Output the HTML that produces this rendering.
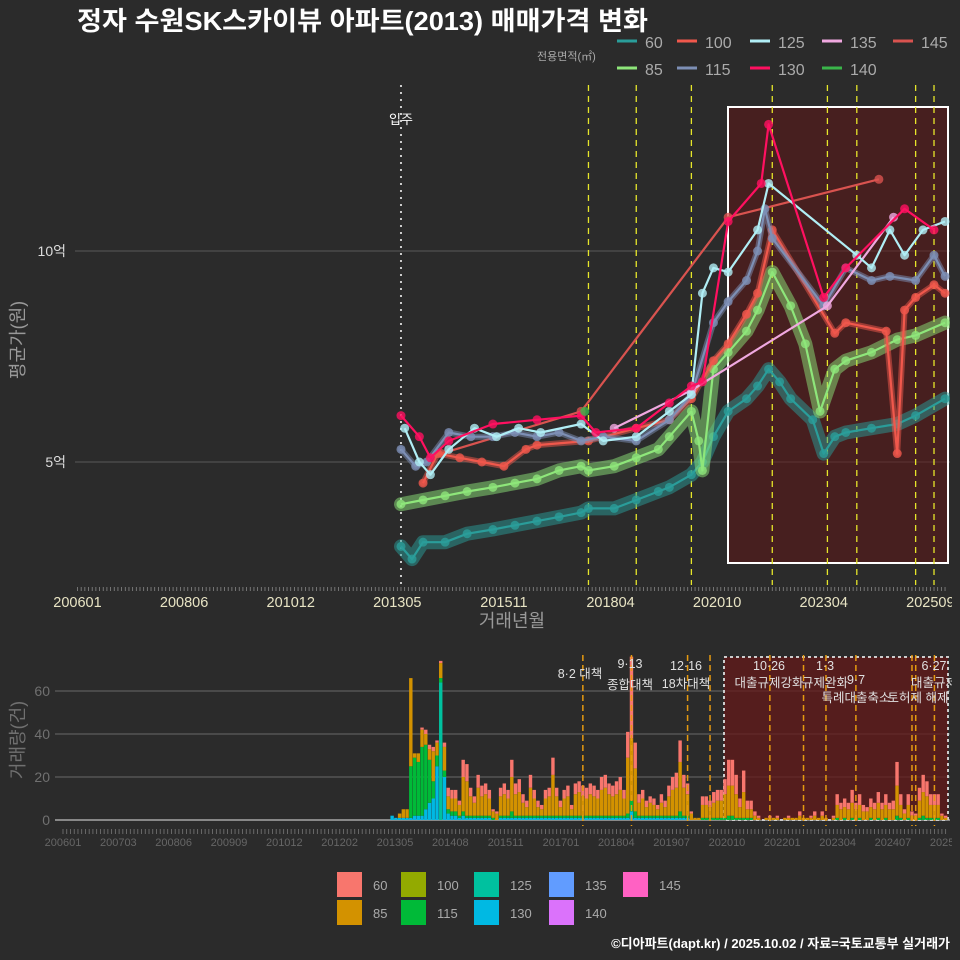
<!DOCTYPE html>
<html><head><meta charset="utf-8">
<style>
html,body{margin:0;padding:0;background:#2b2b2b;}
svg{display:block;font-family:"Liberation Sans","Noto Sans CJK KR",sans-serif;}
</style></head>
<body>
<svg id="c" width="960" height="960" viewBox="0 0 960 960" xmlns="http://www.w3.org/2000/svg">
<rect x="0" y="0" width="960" height="960" fill="#2b2b2b"/>
<text x="77" y="30" fill="#ffffff" font-size="26" font-weight="bold" textLength="571" lengthAdjust="spacingAndGlyphs">정자 수원SK스카이뷰 아파트(2013) 매매가격 변화</text>
<text x="537" y="60" fill="#aaaaaa" font-size="11">전용면적(㎡)</text>
<g id="topLegend"></g>
<g id="main"></g>
<g id="vol"></g>
<g id="botLegend"></g>
<text x="950" y="948" fill="#ffffff" font-size="13" font-weight="bold" text-anchor="end">©디아파트(dapt.kr) / 2025.10.02 / 자료=국토교통부 실거래가</text>
</svg>
<script>
// ---------- price series data (억) ----------
const s60_m = ["201305","201308","201311","201405","201411","201506","201512","201606","201612","201706","201708","201803","201809","201903","201906","201912","202003","202006","202010","202103","202106","202109","202112","202203","202209","202212","202303","202306","202401","202408","202501","202509"];
const s60_v = [3.0,2.7,3.1,3.1,3.3,3.4,3.5,3.6,3.7,3.8,3.9,3.9,4.1,4.3,4.4,4.7,5.0,5.6,6.2,6.5,6.8,7.2,6.9,6.5,6.0,5.2,5.6,5.7,5.8,5.9,6.1,6.5];
const s85_m = ["201305","201311","201405","201411","201506","201512","201606","201612","201706","201708","201803","201809","201903","201906","201912","202002","202003","202006","202010","202103","202106","202110","202203","202207","202211","202303","202306","202401","202408","202501","202509"];
const s85_v = [4.0,4.1,4.2,4.3,4.4,4.5,4.6,4.8,4.9,4.8,4.9,5.1,5.3,5.6,6.2,5.5,4.8,7.2,7.6,8.1,8.6,9.5,8.7,7.8,6.2,7.2,7.4,7.6,7.9,8.0,8.3];
const s100_m = ["201311","201403","201409","201503","201509","201603","201606","201708","201809","201906","201912","202006","202010","202103","202106","202110","202303","202306","202405","202408","202410","202501","202506","202509"];
const s100_v = [4.5,5.2,5.1,5.0,4.9,5.3,5.4,5.5,5.8,6.0,6.5,7.4,7.8,8.5,9.0,10.5,8.05,8.3,8.1,5.2,8.6,8.9,9.2,9.0];
const s115_m = ["201305","201309","201312","201406","201412","201506","201512","201606","201612","201706","201712","201809","201906","201912","202006","202010","202103","202106","202108","202110","202212","202306","202401","202406","202501","202506","202509"];
const s115_v = [5.3,4.9,5.0,5.7,5.6,5.6,5.7,5.6,5.7,5.5,5.6,5.5,6.0,6.6,8.3,8.8,9.3,10.0,11.0,10.3,8.7,9.6,9.3,9.4,9.3,9.9,9.4];
const s125_m = ["201306","201310","201401","201406","201501","201507","201601","201607","201706","201712","201809","201906","201912","202003","202006","202010","202106","202109","202309","202401","202406","202410","202503","202509"];
const s125_v = [5.8,5.0,4.7,5.3,5.8,5.6,5.8,5.7,5.9,5.5,5.6,6.2,6.6,9.0,9.6,9.5,10.5,11.6,9.9,9.6,10.5,9.9,10.5,10.7];
const s130_m = ["201305","201310","201401","201406","201506","201606","201706","201710","201809","201906","201912","202003","202010","202107","202109","202212","202306","202410","202506"];
const s130_v = [6.1,5.6,5.1,5.5,5.9,6.0,6.1,5.7,5.8,6.4,6.8,6.9,10.7,11.6,13.0,8.9,9.6,11.0,10.5];
const s135_m = ["201803","201912","202301","202407"];
const s135_v = [5.8,6.7,8.7,10.8];
const s145_m = ["201404","201706","202010","202403"];
const s145_v = [5.2,6.2,10.8,11.7];
const s140_m = ["201707"];
const s140_v = [6.2];

// ---------- volume data (건), monthly from 201305 ----------
const volStart = "201305";
const volTotal = [2,1,3,5,5,66,31,31,
43,42,35,34,37,74,36,15,14,14,9,28,
26,15,11,21,16,17,14,5,4,15,17,14,
28,17,19,12,9,21,14,9,7,14,15,29,
15,9,14,16,7,17,18,16,15,17,16,14,
20,21,17,16,18,20,14,41,76,36,12,14,
9,11,10,7,12,9,16,20,22,37,21,17,
4,1,1,11,11,9,13,14,14,19,28,28,
21,10,23,9,9,4,2,0,1,2,1,2,
0,1,2,1,1,4,1,1,2,4,1,4,
1,0,2,12,8,10,8,14,8,12,7,6,
10,8,13,8,12,8,9,27,12,5,12,4,
3,15,21,18,12,12,12,3,2];
const vol60 = [0,0,0,0,0,0,0,0,
1,2,2,2,1,1,2,4,4,4,2,8,
8,4,3,6,5,5,4,1,1,4,5,4,
8,5,6,4,3,6,4,3,2,4,4,8,
4,3,4,5,2,5,5,5,5,5,5,4,
6,6,5,5,6,6,4,12,38,12,4,4,
3,3,3,2,4,3,5,6,7,10,6,5,
1,0,0,4,4,3,5,5,5,7,12,12,
9,4,10,4,4,2,1,0,0,1,0,1,
0,0,1,0,0,2,0,0,1,2,0,2,
0,0,1,5,3,4,3,6,3,5,3,2,
4,3,5,3,5,3,4,11,5,2,5,2,
1,6,8,7,5,5,5,1,1];
const vol115 = [0,0,0,0,0,24,27,25,
32,30,20,8,5,2,3,2,2,2,1,2,
1,1,1,1,1,1,1,1,0,1,1,1,
3,1,1,1,1,1,1,1,1,1,1,1,
1,1,1,1,1,1,1,1,1,1,1,1,
1,1,1,1,1,1,1,2,5,3,1,1,
1,1,1,1,1,1,1,1,1,3,1,1,
0,0,0,1,1,1,1,1,1,1,2,2,
1,1,1,1,1,0,0,0,0,0,0,0,
0,0,0,0,0,0,0,0,0,0,0,0,
0,0,0,1,0,1,0,1,0,1,0,0,
1,0,1,0,1,0,0,2,1,0,1,0,
0,1,2,1,1,1,1,0,0];
const vol130 = [2,1,1,1,1,1,2,2,
2,5,8,10,25,64,20,3,2,2,1,2,
1,1,1,1,1,1,1,0,0,1,1,1,
1,1,1,1,1,1,1,1,1,1,1,1,
1,1,1,1,1,1,1,1,1,1,1,1,
1,1,1,1,1,1,1,1,4,1,1,1,
1,1,1,1,1,1,1,1,1,1,1,1,
0,0,0,0,0,0,0,0,0,0,0,0,
0,0,0,0,0,0,0,0,0,0,0,0,
0,0,0,0,0,0,0,0,0,0,0,0,
0,0,0,0,0,0,0,0,0,0,0,0,
0,0,0,0,0,0,0,0,0,0,0,0,
0,0,0,0,0,0,0,0,0];
const mainTicks = ["200601","200806","201012","201305","201511","201804","202010","202304","202509"];
const volTicks = ["200601","200703","200806","200909","201012","201202","201305","201408","201511","201701","201804","201907","202010","202201","202304","202407","202510"];
const policyMonths = ["201708","201809","201912","202110","202301","202309","202501","202506"];
const volPolicyMonths = ["201708","201809","201912","202006","202110","202207","202301","202309","202412","202501","202506"];

// ---------- helpers ----------
const NS="http://www.w3.org/2000/svg";
function el(tag,attrs,parent){const e=document.createElementNS(NS,tag);for(const k in attrs)e.setAttribute(k,attrs[k]);parent.appendChild(e);return e;}
function mi(s){const y=+s.slice(0,4);const m=s.length>4?+s.slice(4,6):1;return (y-2006)*12+(m-1);}
const X=m=>77.5+m*3.676;
const Y=v=>673-42.2*v;
const XV=m=>63+m*3.74;
const YV=v=>820-2.15*v;

const main=document.getElementById('main');
const defs=el('defs',{},main);
const cp=el('clipPath',{id:'mclip'},defs);
el('rect',{x:75,y:80,width:875,height:505},cp);
const cp2=el('clipPath',{id:'lclip'},defs);
el('rect',{x:0,y:0,width:952,height:960},cp2);
[5,10].forEach(v=>{
 const g=el('line',{x1:75,x2:950,y1:Y(v),y2:Y(v),stroke:'#5a5a5a','stroke-width':1},main);
 
 
 const t=el('text',{x:66,y:Y(v)+5,fill:'#dddddd','font-size':14,'text-anchor':'end'},main);
 t.textContent=v+'억';
 
 
});
const hb=el('rect',{x:728,y:107,width:220,height:456,fill:'rgba(95,22,22,0.55)',stroke:'#ffffff','stroke-width':2},main);


const mv=el('line',{x1:X(mi("201305")),x2:X(mi("201305")),y1:85,y2:585,stroke:'#cccccc','stroke-width':2,'stroke-dasharray':'2,5'},main);


const mvt=el('text',{x:X(mi("201305")),y:124,fill:'#ffffff','font-size':13,'text-anchor':'middle'},main);
mvt.textContent='입주';


policyMonths.forEach(p=>{
 const l=el('line',{x1:X(mi(p)),x2:X(mi(p)),y1:85,y2:585,stroke:'#e6e62a','stroke-width':1.3,'stroke-dasharray':'6,5'},main);
 
 
});
const series=[
 {n:'60',m:s60_m,v:s60_v,c:'#2a9d9a',band:true,bw:14},
 {n:'85',m:s85_m,v:s85_v,c:'#8ee67a',band:true,bw:14},
 {n:'145',m:s145_m,v:s145_v,c:'#d9534f'},
 {n:'100',m:s100_m,v:s100_v,c:'#f0584c',band:true,bw:6},
 {n:'115',m:s115_m,v:s115_v,c:'#7d8fb5',band:true,bw:6},
 {n:'135',m:s135_m,v:s135_v,c:'#f0a8e0'},
 {n:'125',m:s125_m,v:s125_v,c:'#b0eef5'},
 {n:'130',m:s130_m,v:s130_v,c:'#ff1060'},
 {n:'140',m:s140_m,v:s140_v,c:'#3ab54a'}
];
const plot=el('g',{'clip-path':'url(#mclip)'},main);
series.forEach(s=>{
 const g=el('g',{},plot);
 
 
 const pts=s.m.map((d,i)=>X(mi(d)).toFixed(1)+','+Y(s.v[i]).toFixed(1)).join(' ');
 if(s.band){
  el('polyline',{points:pts,fill:'none',stroke:s.c,'stroke-width':s.bw,'stroke-opacity':0.5,'stroke-linejoin':'round','stroke-linecap':'round'},g);
 }
 if(s.m.length>1){
  const pl=el('polyline',{points:pts,fill:'none',stroke:s.c,'stroke-width':2.2,'stroke-linejoin':'round'},g);
  
  
 }
 s.m.forEach((d,i)=>{
  const c=el('circle',{cx:X(mi(d)),cy:Y(s.v[i]),r:4.5,fill:s.c,'fill-opacity':0.8},g);
  
  
 });
});
for(let m=0;m<=236;m++){
 el('line',{x1:X(m),x2:X(m),y1:587,y2:591,stroke:'#888','stroke-width':0.8},main);
}
const mtg=el('g',{'clip-path':'url(#lclip)'},main);
mainTicks.forEach((t,k)=>{
 const tx=el('text',{x:X(k*29),y:607,fill:'#e8e4c4','font-size':14.5,'text-anchor':'middle'},mtg);
 tx.textContent=t;
 
 
});
const xt=el('text',{x:512,y:627,fill:'#999','font-size':18,'text-anchor':'middle'},main);
xt.textContent='거래년월';


const yt=el('text',{x:0,y:0,fill:'#999','font-size':18,'text-anchor':'middle',transform:'translate(24,340) rotate(-90)'},main);
yt.textContent='평균가(원)';


const tl=document.getElementById('topLegend');
const legItems=[['60','#2a9d9a',617,42],['100','#f0584c',677,42],['125','#b0eef5',750,42],['135','#f0a8e0',822,42],['145','#d9534f',893,42],
 ['85','#8ee67a',617,69],['115','#7d8fb5',677,69],['130','#ff1060',750,69],['140','#3ab54a',822,69]];
legItems.forEach(it=>{
 const g=el('g',{},tl);
 
 
 el('line',{x1:it[2],x2:it[2]+20,y1:it[3]-1,y2:it[3]-1,stroke:it[1],'stroke-width':3},g);
 const t=el('text',{x:it[2]+28,y:it[3]+6,fill:'#aaaaaa','font-size':16},g);
 t.textContent=it[0];
});

// ---------- volume panel ----------
const vol=document.getElementById('vol');
[0,20,40,60].forEach(v=>{
 el('line',{x1:55,x2:950,y1:YV(v),y2:YV(v),stroke:v===0?'#888':'#6a6a6a','stroke-width':v===0?2:1},vol);
 const t=el('text',{x:50,y:YV(v)+5,fill:'#707070','font-size':14,'text-anchor':'end'},vol);
 t.textContent=v;
 
 
});
const vr=el('rect',{x:724,y:657,width:224,height:163,fill:'rgba(100,25,25,0.75)',stroke:'#cccccc','stroke-width':2,'stroke-dasharray':'3,3'},vol);


const bw=3.4, s0=mi(volStart);
volTotal.forEach((tot,i)=>{
 const m=s0+i, x=XV(m)-bw/2;
 const a130=vol130[i], a115=vol115[i], a60=vol60[i];
 const a85=Math.max(0,tot-a130-a115-a60);
 let base=0;
 const g=el('g',{},vol);
 
 
 [[a130,'#00b9e3'],[a115,'#00ba38'],[a85,'#d39200'],[a60,'#f8766d']].forEach(seg=>{
  if(seg[0]<=0)return;
  const col=(i===13&&seg[1]==='#00b9e3')?'#00c19f':seg[1];
  el('rect',{x:x,y:YV(base+seg[0]),width:bw,height:seg[0]*2.15,fill:col},g);
  base+=seg[0];
 });
});
volPolicyMonths.forEach(p=>{
 const l=el('line',{x1:XV(mi(p)),x2:XV(mi(p)),y1:655,y2:826,stroke:'#e69a10','stroke-width':1.5,'stroke-dasharray':'6,4'},vol);
 
 
});
for(let m=0;m<=236;m++){
 el('line',{x1:XV(m),x2:XV(m),y1:829,y2:834,stroke:'#777','stroke-width':0.8},vol);
}
const vtg=el('g',{'clip-path':'url(#lclip)'},vol);
volTicks.forEach((t,k)=>{
 const tx=el('text',{x:63+k*55.33,y:846,fill:'#666','font-size':11,'text-anchor':'middle'},vtg);
 tx.textContent=t;
 
 
});
const ann=[['8·2 대책',580,678],['9·13',630,668],['종합대책',630,689],['12·16',686,670],['18차대책',686,688],
 ['10·26',769,670],['대출규제강화',769,687],['1·3',825,670],['규제완화',825,687],['9·7',856,684],['특례대출축소',856,702],['토허제 해제',918,702],['6·27',934,670],['대출규제',934,687]];
ann.forEach(a=>{
 const t=el('text',{x:a[1],y:a[2],fill:'#e0e0e0','font-size':12.5,'text-anchor':'middle'},vtg);
 t.textContent=a[0];
 
 
});
const vt=el('text',{x:0,y:0,fill:'#707070','font-size':18,'text-anchor':'middle',transform:'translate(24,740) rotate(-90)'},vol);
vt.textContent='거래량(건)';



const bl=document.getElementById('botLegend');
const bItems=[['60','#f8766d',337,872],['100','#93aa00',401,872],['125','#00c19f',474,872],['135','#619cff',549,872],['145','#ff61c3',623,872],
 ['85','#d39200',337,900],['115','#00ba38',401,900],['130','#00b9e3',474,900],['140','#db72fb',549,900]];
bItems.forEach(it=>{
 const g=el('g',{},bl);
 
 
 el('rect',{x:it[2],y:it[3],width:25,height:25,fill:it[1]},g);
 const t=el('text',{x:it[2]+36,y:it[3]+18,fill:'#aaaaaa','font-size':13},g);
 t.textContent=it[0];
});
</script>
</body></html>
